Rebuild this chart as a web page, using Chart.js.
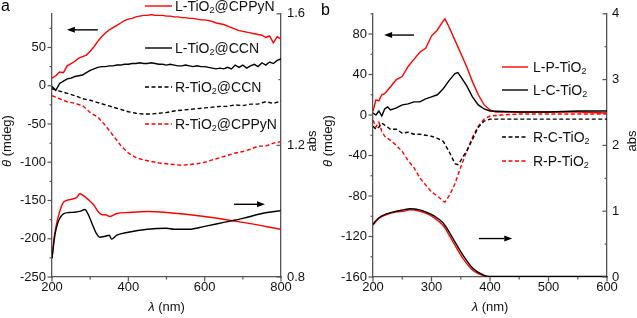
<!DOCTYPE html>
<html><head><meta charset="utf-8">
<script src="https://cdn.jsdelivr.net/npm/chart.js@4/dist/chart.umd.min.js"></script>
<style>
html,body{margin:0;padding:0;background:#fff;width:637px;height:318px;overflow:hidden}
#wa{position:absolute;left:0;top:0;width:318px;height:318px}
#wb{position:absolute;left:318px;top:0;width:319px;height:318px}
canvas{display:block}
</style></head><body>
<div id="wa"><canvas id="ca" width="318" height="318"></canvas></div>
<div id="wb"><canvas id="cb" width="319" height="318"></canvas></div>
<script>
// ---------------- Panel a data ----------------
const aX10 = [200,210,220,230,240,250,260,270,280,290,300,310,320,330,340,350,360,370,380,390,400,410,420,430,440,450,460,470,480,490,500,510,520,530,540,550,560,570,580,590,600,610,620,630,640,650,660,670,680,690,700,710,720,730,740,750,760,770,780,790,800];
const aL_CPPyN = [10,13,18,17,26,29,32,36,38,40,45,51,58,64,69,73,76,79,82,85,87,88,90,91,92,92,93,92,92,92,91,91,90,90,89,89,88,88,87,86,86,85,84,82,81,80,78,76,74,72,71,70,69,68,67,66,63,65,56,64,61];
const aL_CCN   = [-1,-6,3,6,9,10,12,13,14,17,20,22,24,25,25,26,26,27,27,28,28,29,29,30,29,29,30,29,28,28,27,28,27,26,26,27,26,25,26,25,25,24,23,22,23,22,24,22,27,24,27,23,26,28,25,30,27,31,29,33,35];
const aX20 = [200,220,240,260,280,300,320,340,360,380,400,420,440,460,480,500,520,540,560,580,600,620,640,660,680,700,720,740,760,780,800];
const aR_CCN   = [-4,-7,-10,-13,-17,-19,-22,-25,-28,-31,-34,-36,-37,-37,-36,-35,-33,-32,-31,-30,-29,-28,-27,-27,-25,-26,-24,-24,-21,-23,-20];
const aR_CPPyN = [-13,-17,-21,-23,-26,-35,-41,-52,-65,-78,-88,-94,-97,-99,-101,-102,-103,-104,-103,-102,-100,-97,-94,-91,-88,-86,-83,-79,-79,-75,-73];
const aAbsX     = [200,205,210,216,230,250,265,273,285,300,310,320,330,340,352,370,400,450,500,600,700,800];
const aAbsRed   = [0.857,0.915,0.950,0.982,1.027,1.036,1.042,1.053,1.045,1.030,1.018,1.000,0.990,0.989,0.984,0.993,0.996,0.999,0.996,0.984,0.966,0.945];
const aAbsBlackX= [200,208,216,230,245,260,275,286,295,305,315,325,340,350,356,370,400,450,500,520,560,600,650,700,750,800];
const aAbsBlack = [0.857,0.930,0.967,0.992,0.996,0.997,1.000,1.005,0.990,0.962,0.935,0.921,0.924,0.927,0.915,0.927,0.936,0.945,0.948,0.945,0.945,0.954,0.966,0.978,0.993,1.002];
const aXTicks = [200,400,600,800], aXMinor = [300,500,700];
const aLeftTicks = [-250,-200,-150,-100,-50,0,50], aLeftMinor = [-225,-175,-125,-75,-25,25,75];
const aRightTicks = [0.8,1.2,1.6], aRightMinor = [1.0,1.4];
const aLegend = ['L-TiO2@CPPyN','L-TiO2@CCN','R-TiO2@CCN','R-TiO2@CPPyN'];

// ---------------- Panel b data ----------------
const bLPX = [200,205,210,215,220,230,240,250,260,270,280,290,300,310,320,323,330,340,350,360,370,380,390,400,410,420,450,500,550,600];
const bLP  = [4,15,14,20,21,28,35,38,48,55,62,66,78,84,93,95,87,74,61,48,33,20,10,5,3,3,3,3,3,2];
const bLCX = [200,205,210,215,220,225,230,240,250,260,270,280,290,300,310,320,330,340,345,350,360,370,380,390,400,450,500,550,600];
const bLC  = [2,0,4,-1,6,8,5,7,10,11,13,13,16,18,20,26,34,41,42,38,29,18,10,6,4,3,3,4,4];
const bRCX = [200,205,210,215,220,230,240,250,260,270,280,290,300,310,320,330,340,345,350,355,360,370,380,390,400,450,500,550,600];
const bRC  = [-11,-14,-12,-8,-10,-14,-14,-18,-17,-19,-19,-20,-21,-23,-26,-36,-48,-49,-45,-40,-36,-24,-12,-6,-4,-4,-4,-4,-4];
const bRPX = [200,205,210,215,220,230,240,250,260,270,280,290,300,310,320,323,330,337,340,349,360,370,380,390,400,420,450,500,550,600];
const bRP  = [-5,-12,-7,-16,-21,-25,-30,-36,-45,-52,-62,-69,-76,-80,-85,-86,-80,-72,-68,-53,-36,-22,-11,-4,-1,0,1,1,1,1];
const bAbsX     = [200,203,210,223,240,252,263,280,290,303,320,337,354,371,389,400,450,500,600];
const bAbsBlack = [0.80,0.835,0.90,0.96,1.00,1.02,1.037,1.02,0.99,0.936,0.82,0.58,0.33,0.13,0.03,0.01,0.01,0.01,0.01];
const bAbsRed   = [0.79,0.82,0.89,0.95,0.99,1.00,1.02,1.00,0.97,0.91,0.78,0.53,0.28,0.10,0.02,0.00,0.00,0.00,0.00];
const bXTicks = [200,300,400,500,600], bXMinor = [250,350,450,550];
const bLeftTicks = [-160,-120,-80,-40,0,40,80], bLeftMinor = [-140,-100,-60,-20,20,60,100];
const bRightTicks = [0,1,2,3,4], bRightMinor = [0.5,1.5,2.5,3.5];
const bLegend = ['L-P-TiO2','L-C-TiO2','R-C-TiO2','R-P-TiO2'];

// ---------------- styling ----------------
const FONT = '"Liberation Sans", Arial, sans-serif';
const AX = '#555';
const RED = '#ff0000', BLK = '#000000';
const DASH = [4, 2.5];

function pts(xs, ys){ return xs.map((x,i)=>({x:x, y:ys[i]})); }
function ds(xs, ys, color, dashed, axis, smooth){
  return {data:pts(xs,ys), borderColor:color, borderWidth:1.4, pointRadius:0,
    borderDash: dashed?DASH:[], yAxisID:axis, fill:false,
    tension: smooth?0.4:0, cubicInterpolationMode: smooth?'monotone':'default'};
}
function fmt(v){ return String(v); }
function scaleY(pos, min, max, ticks, width, pad){
  return {type:'linear', position:pos, min:min, max:max,
    grid:{display:false, drawTicks:false},
    border:{display:true, color:AX, width:1.3},
    ticks:{font:{family:FONT,size:13}, color:'#111', padding:pad,
      callback:(v)=>fmt(Math.round(v*10)/10)},
    afterBuildTicks:(s)=>{ s.ticks = ticks.map(v=>({value:v})); },
    afterFit:(s)=>{ s.width = width; }
  };
}
function scaleX(min, max, ticks){
  return {type:'linear', position:'bottom', min:min, max:max,
    grid:{display:false, drawTicks:false},
    border:{display:true, color:AX, width:1.3},
    ticks:{font:{family:FONT,size:13}, color:'#111', padding:3, maxRotation:0},
    afterBuildTicks:(s)=>{ s.ticks = ticks.map(v=>({value:v})); },
    afterFit:(s)=>{ s.height = 41; }
  };
}

function drawChem(ctx, text, x, y, size){
  // renders "TiO2" with subscript 2
  const parts = text.split('TiO2');
  ctx.font = size+'px '+FONT; ctx.textBaseline='middle'; ctx.textAlign='left';
  let cx = x;
  parts.forEach((p,i)=>{
    ctx.font = size+'px '+FONT;
    ctx.fillText(p, cx, y); cx += ctx.measureText(p).width;
    if(i<parts.length-1){
      ctx.fillText('TiO', cx, y); cx += ctx.measureText('TiO').width;
      ctx.font = Math.round(size*0.65)+'px '+FONT;
      ctx.fillText('2', cx, y+4); cx += ctx.measureText('2').width;
    }
  });
}

function decor(o){
  return {id:'decor', afterDraw(chart){
    const ctx = chart.ctx, ca = chart.chartArea;
    const sx = chart.scales.x, sy = chart.scales.y, sy2 = chart.scales.y2;
    ctx.save();
    // tick marks
    ctx.strokeStyle = AX; ctx.lineWidth = 1.2;
    const ln=(x1,y1,x2,y2)=>{ctx.beginPath();ctx.moveTo(x1,y1);ctx.lineTo(x2,y2);ctx.stroke();};
    o.xT.forEach(v=>{const x=sx.getPixelForValue(v); ln(x,ca.bottom,x,ca.bottom+4.5);});
    o.xM.forEach(v=>{const x=sx.getPixelForValue(v); ln(x,ca.bottom,x,ca.bottom+2.5);});
    o.lT.forEach(v=>{const y=sy.getPixelForValue(v); ln(ca.left,y,ca.left-4.5,y);});
    o.lM.forEach(v=>{const y=sy.getPixelForValue(v); if(y>=ca.top) ln(ca.left,y,ca.left-2.5,y);});
    o.rT.forEach(v=>{const y=sy2.getPixelForValue(v); ln(ca.right,y,ca.right-4.5,y);});
    o.rM.forEach(v=>{const y=sy2.getPixelForValue(v); ln(ca.right,y,ca.right-2.5,y);});
    // axis titles
    ctx.fillStyle = '#111';
    ctx.textBaseline = 'alphabetic';
    ctx.save(); ctx.translate(o.ltX, o.tY); ctx.rotate(-Math.PI/2);
    ctx.font = 'italic 13px '+FONT; const w1 = ctx.measureText('\u03B8').width;
    ctx.font = '13px '+FONT; const w2 = ctx.measureText(' (mdeg)').width;
    let st = -(w1+w2)/2;
    ctx.textAlign='left';
    ctx.font = 'italic 13px '+FONT; ctx.fillText('\u03B8', st, 0);
    ctx.font = '13px '+FONT; ctx.fillText(' (mdeg)', st+w1, 0);
    ctx.restore();
    ctx.save(); ctx.translate(o.rtX, o.tY); ctx.rotate(-Math.PI/2);
    ctx.font = '13px '+FONT; ctx.textAlign='center'; ctx.fillText('abs', 0, 0);
    ctx.restore();
    ctx.font = 'italic 13px '+FONT; const b1 = ctx.measureText('\u03BB').width;
    ctx.font = '13px '+FONT; const b2 = ctx.measureText(' (nm)').width;
    const bx = (ca.left+ca.right)/2 - (b1+b2)/2;
    ctx.textAlign='left';
    ctx.font = 'italic 13px '+FONT; ctx.fillText('\u03BB', bx, o.btY);
    ctx.font = '13px '+FONT; ctx.fillText(' (nm)', bx+b1, o.btY);
    // panel label
    ctx.font = '16px '+FONT; ctx.fillStyle='#000'; ctx.fillText(o.label, o.labX, o.labY);
    // legend
    o.leg.forEach((e)=>{
      ctx.strokeStyle = e.c; ctx.lineWidth = 1.4; ctx.setLineDash(e.d?DASH:[]);
      ln(o.legX1, e.y, o.legX2, e.y); ctx.setLineDash([]);
      ctx.fillStyle = '#111'; drawChem(ctx, e.t, o.legTX, e.y+1, 14);
    });
    // arrows (positioned in data units)
    ctx.strokeStyle='#000'; ctx.fillStyle='#000'; ctx.lineWidth=1.4;
    o.arrows.forEach(a=>{
      const ys = a.ax==='y2'?sy2:sy;
      const x1 = sx.getPixelForValue(a.from), x2 = sx.getPixelForValue(a.to), y = ys.getPixelForValue(a.y);
      const dir = Math.sign(x2-x1), hl = 8;
      ln(x1,y,x2-dir*hl,y);
      ctx.beginPath(); ctx.moveTo(x2,y); ctx.lineTo(x2-dir*hl,y-3); ctx.lineTo(x2-dir*hl,y+3); ctx.closePath(); ctx.fill();
    });
    ctx.restore();
  }};
}

function makeChart(id, datasets, scales, o){
  return new Chart(document.getElementById(id), {
    type:'line', data:{datasets:datasets},
    options:{responsive:false, animation:false, devicePixelRatio:1,
      layout:{padding:{top:12,left:0,right:0,bottom:0}},
      plugins:{legend:{display:false}, tooltip:{enabled:false}},
      scales:scales},
    plugins:[decor(o)]
  });
}

makeChart('ca', [
  ds(aAbsBlackX, aAbsBlack, BLK, false, 'y2', true),
  ds(aAbsX, aAbsRed, RED, false, 'y2', true),
  ds(aX20, aR_CCN, BLK, true, 'y', false),
  ds(aX20, aR_CPPyN, RED, true, 'y', false),
  ds(aX10, aL_CCN, BLK, false, 'y', false),
  ds(aX10, aL_CPPyN, RED, false, 'y', false)
], {
  x: scaleX(200, 800, aXTicks),
  y: scaleY('left', -250, 94, aLeftTicks, 52, 6),
  y2: scaleY('right', 0.8, 1.6, aRightTicks, 37, 6)
}, {
  xT:aXTicks, xM:aXMinor, lT:aLeftTicks, lM:aLeftMinor, rT:aRightTicks, rM:aRightMinor,
  ltX:10.6, rtX:316, tY:141, btY:310.5, label:'a', labX:1, labY:11,
  legX1:145, legX2:172, legTX:175,
  leg:[{t:aLegend[0],c:RED,d:false,y:6},{t:aLegend[1],c:BLK,d:false,y:48},{t:aLegend[2],c:BLK,d:true,y:87},{t:aLegend[3],c:RED,d:true,y:124}],
  arrows:[{from:320,to:239,y:73,ax:'y'},{from:677,to:758,y:-155,ax:'y'}]
});

makeChart('cb', [
  ds(bAbsX, bAbsBlack, BLK, false, 'y2', true),
  ds(bAbsX, bAbsRed, RED, false, 'y2', true),
  ds(bRCX, bRC, BLK, true, 'y', false),
  ds(bRPX, bRP, RED, true, 'y', false),
  ds(bLCX, bLC, BLK, false, 'y', false),
  ds(bLPX, bLP, RED, false, 'y', false)
], {
  x: scaleX(200, 600, bXTicks),
  y: scaleY('left', -160, 100, bLeftTicks, 55, 6),
  y2: scaleY('right', 0, 4, bRightTicks, 30, 5)
}, {
  xT:bXTicks, xM:bXMinor, lT:bLeftTicks, lM:bLeftMinor, rT:bRightTicks, rM:bRightMinor,
  ltX:14.3, rtX:318, tY:141, btY:310.5, label:'b', labX:3, labY:15,
  legX1:184, legX2:210, legTX:215,
  leg:[{t:bLegend[0],c:RED,d:false,y:67},{t:bLegend[1],c:BLK,d:false,y:90},{t:bLegend[2],c:BLK,d:true,y:137},{t:bLegend[3],c:RED,d:true,y:161}],
  arrows:[{from:270,to:219,y:79,ax:'y'},{from:381,to:438,y:-122,ax:'y'}]
});
</script>
</body></html>
